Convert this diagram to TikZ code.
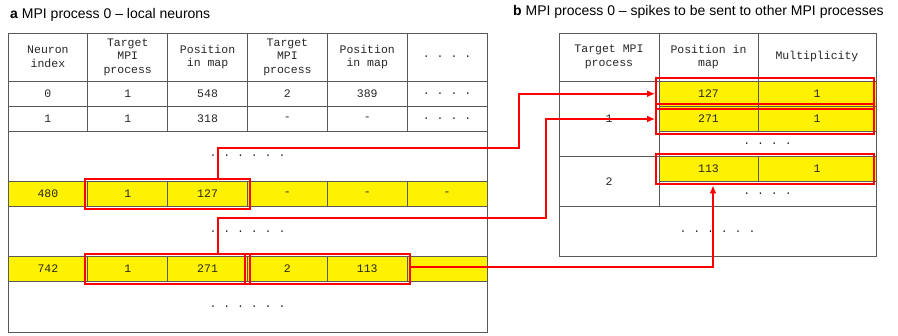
\documentclass[tikz,border=0pt]{standalone}
\usepackage{fontspec}
\setmainfont{Liberation Sans}
\setmonofont{Liberation Mono}
\usepackage{tikz}
\usetikzlibrary{positioning, calc, fit, arrows.meta}

\newcommand{\monotext}{\ttfamily\fontsize{11.5}{13.6}\selectfont}
\newcommand{\titletext}{\fontsize{14}{16}\selectfont}

\tikzset{
  cell/.style={draw=black!65, line width=0.8pt, text=black!85, minimum height=25pt,
    minimum width=79.83pt, inner sep=0pt, align=center, font=\monotext},
  hl/.style={cell, fill=yellow},
  redbox/.style={draw=red, line width=2pt, inner sep=2.5pt},
  link/.style={red, line width=2pt, -{Latex[length=8pt,width=7pt]}},
}

\begin{document}
\begin{tikzpicture}[x=1pt, y=-1pt]
  \useasboundingbox (0,0) rectangle (898,336);

  % 1. Titles
  \node[anchor=base west, inner sep=0pt, font=\titletext] (ta) at (10,19)
    {\textbf{a} MPI process 0 -- local neurons};
  \node[anchor=base west, inner sep=0pt, font=\titletext] (tb) at (513,16)
    {\textbf{b} MPI process 0 -- spikes to be sent to other MPI processes};

  % 2. Table a: header and plain rows
  \foreach \txt [count=\i] in {{Neuron\\index}, {Target\\MPI\\process}, {Position\\in map},
      {Target\\MPI\\process}, {Position\\in map}, {. . . .}}
    \node[cell, minimum height=48pt] (h-\i) at ({8+79.83*(\i-0.5)},57) {\txt};
  \foreach \txt [count=\i] in {0, 1, 548, 2, 389, {. . . .}}
    \node[cell] (r0-\i) at ({8+79.83*(\i-0.5)},93.5) {\txt};
  \foreach \txt [count=\i] in {1, 1, 318, -, -, {. . . .}}
    \node[cell] (r1-\i) at ({8+79.83*(\i-0.5)},118.5) {\txt};

  % 3. Table a: highlighted rows and gaps
  \node[cell, minimum width=479pt, minimum height=50pt] (d1) at (247.5,156) {. . . . . .};
  \foreach \txt [count=\i] in {480, 1, 127, -, -, -}
    \node[hl] (r480-\i) at ({8+79.83*(\i-0.5)},194) {\txt};
  \node[cell, minimum width=479pt, minimum height=50pt] (d2) at (247.5,231.5) {. . . . . .};
  \foreach \txt [count=\i] in {742, 1, 271, 2, 113, -}
    \node[hl] (r742-\i) at ({8+79.83*(\i-0.5)},269) {\txt};
  \node[cell, minimum width=479pt, minimum height=50.5pt] (d3) at (247.5,306.75) {. . . . . .};

  % 4. Table b: header
  \node[cell, minimum width=100pt, minimum height=48pt] (hr-1) at (609,57) {Target MPI\\process};
  \node[cell, minimum width=99pt, minimum height=48pt] (hr-2) at (708.5,57) {Position in\\map};
  \node[cell, minimum width=118pt, minimum height=48pt] (hr-3) at (817,57) {Multiplicity};

  % 5. Table b: target process 1
  \node[cell, minimum width=100pt, minimum height=75.5pt] (g1) at (609,118.75) {1};
  \node[hl, minimum width=99pt] (p127-2) at (708.5,93.75) {127};
  \node[hl, minimum width=118pt] (p127-3) at (817,93.75) {1};
  \node[hl, minimum width=99pt] (p271-2) at (708.5,119) {271};
  \node[hl, minimum width=118pt] (p271-3) at (817,119) {1};
  \node[cell, minimum width=217pt] (da) at (767.5,144) {. . . .};

  % 6. Table b: target process 2 and the rest
  \node[cell, minimum width=100pt, minimum height=50pt] (g2) at (609,181.5) {2};
  \node[hl, minimum width=99pt] (p113-2) at (708.5,169) {113};
  \node[hl, minimum width=118pt] (p113-3) at (817,169) {1};
  \node[cell, minimum width=217pt] (db) at (767.5,194) {. . . .};
  \node[cell, minimum width=317pt, minimum height=50pt] (dc) at (717.5,231.5) {. . . . . .};

  % 7. Red frames
  \coordinate (e1) at ([xshift=-5pt]p127-3.east);
  \coordinate (e2) at ([xshift=-5pt]p271-3.east);
  \coordinate (e3) at ([xshift=-5pt]p113-3.east);
  \node[redbox, fit=(r480-2)(r480-3)] (boxA) {};
  \node[redbox, fit=(r742-2)(r742-3)] (boxB) {};
  \node[redbox, fit=(r742-4)(r742-5)] (boxC) {};
  \node[redbox, fit=(p127-2)(e1)] (boxR1) {};
  \node[redbox, fit=(p271-2)(e2)] (boxR2) {};
  \node[redbox, fit=(p113-2)(e3)] (boxR3) {};

  % 8. Links from table a to table b
  \coordinate (s1) at ([xshift=10pt]r480-3.center |- boxA.north);
  \coordinate (s2) at ([xshift=10pt]r742-3.center |- boxB.north);
  \draw[link] (s1) |- ++(301,-30) |- (boxR1.west);
  \draw[link] (s2) |- ++(328,-35) |- (boxR2.west);
  \draw[link] ([yshift=2pt]boxC.east) -| ([xshift=4.5pt]p113-2.center |- boxR3.south);
\end{tikzpicture}
\end{document}
